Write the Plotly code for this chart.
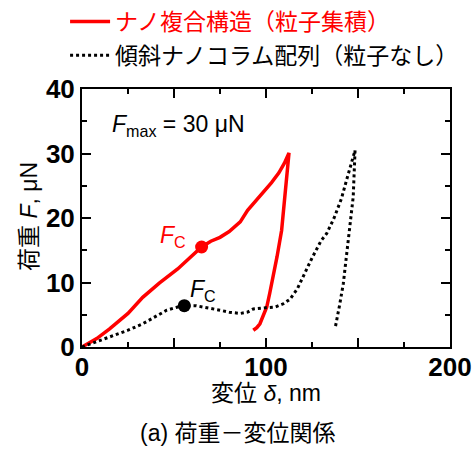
import plotly.graph_objects as go

# Loading / unloading curve, nano composite structure (particle accumulation)
red_x = [0, 8, 15, 25, 33, 42, 52, 60, 65, 70, 75, 80, 86, 90, 95, 100.4, 103, 107, 110, 112.5,
         110.5, 108.5, 106, 104, 102, 100.4, 98.5, 96.7, 95, 93.1]
red_y = [0, 1.3, 2.8, 5.2, 7.7, 9.9, 12.1, 14.2, 15.5, 16.4, 17.0, 17.9, 19.4, 21.2, 22.8, 24.6, 25.5, 27.0, 28.5, 30.1,
         24.0, 18.1, 14.0, 10.8, 8.3, 6.2, 4.7, 3.6, 3.0, 2.6]

# Inclined nano-column array (no particles)
blk_x = [0, 8, 15, 25, 33, 40, 46, 52, 55.6, 62, 70, 75, 80, 86, 90, 93.1, 100, 105, 109.4, 113, 117, 120.3,
         125, 130, 133, 137, 141, 143.8, 146, 148.4, 147.4, 146, 144.7, 143.3, 142, 140, 137.5]
blk_y = [0, 0.8, 1.5, 2.6, 3.6, 4.7, 5.7, 6.2, 6.4, 6.4, 5.9, 5.7, 5.4, 5.2, 5.4, 5.9, 6.1, 6.2, 6.7, 7.4, 9.0, 11.0,
         13.8, 16.5, 17.6, 20.0, 23.0, 25.9, 28.0, 30.5, 23.3, 20.0, 16.5, 13.0, 9.8, 6.5, 2.8]

# Critical load points F_C
fc_red = (65, 15.5)
fc_blk = (55.6, 6.4)

red_name = "ナノ複合構造（粒子集積）"
blk_name = "傾斜ナノコラム配列（粒子なし）"

x_ticks = [0, 50, 100, 150, 200]
x_labels = ["0", "", "100", "", "200"]
y_ticks = [0, 10, 20, 30, 40]
y_labels = ["0", "10", "20", "30", "40"]

FONT = "Liberation Sans, Arial, Noto Sans CJK JP, sans-serif"
RED = "#ff0000"

fig = go.Figure()
fig.add_trace(go.Scatter(x=red_x, y=red_y, mode="lines", name=f'<span style="color:{RED}">{red_name}</span>',
                         line=dict(color=RED, width=3.5), legend="legend"))
fig.add_trace(go.Scatter(x=blk_x, y=blk_y, mode="lines", name=blk_name,
                         line=dict(color="black", width=3, dash="dot"), legend="legend2"))
fig.add_trace(go.Scatter(x=[fc_red[0]], y=[fc_red[1]], mode="markers", showlegend=False,
                         marker=dict(color=RED, size=13)))
fig.add_trace(go.Scatter(x=[fc_blk[0]], y=[fc_blk[1]], mode="markers", showlegend=False,
                         marker=dict(color="black", size=13)))

axis_common = dict(showline=True, linecolor="black", linewidth=2, mirror="ticks", ticks="inside",
                   ticklen=9, tickwidth=1.5, tickcolor="black", showgrid=False, zeroline=False,
                   tickfont=dict(family=FONT, size=26, color="black", weight="bold"))

fig.update_xaxes(range=[0, 200], tickvals=x_ticks, ticktext=x_labels, ticklabelstandoff=-4,
                 minor=dict(dtick=25, ticks="inside", ticklen=5, tickwidth=1.5, tickcolor="black", showgrid=False),
                 **axis_common)
fig.update_yaxes(range=[0, 40], tickvals=y_ticks, ticktext=y_labels,
                 minor=dict(dtick=5, ticks="inside", ticklen=5, tickwidth=1.5, tickcolor="black", showgrid=False),
                 **axis_common)

fig.add_annotation(x=0.5, y=-0.178, xref="paper", yref="paper", xanchor="center", yanchor="middle",
                   showarrow=False, text="変位 <i>δ</i>, nm", font=dict(family=FONT, size=23, color="black"))
fig.add_annotation(x=-0.144, y=0.504, xref="paper", yref="paper", textangle=-90, showarrow=False,
                   xanchor="center", yanchor="middle",
                   text="荷重 <i>F</i>, μN", font=dict(family=FONT, size=23, color="black"))
fig.add_annotation(x=15.2, y=34.4, text="<i>F</i><sub>max</sub> = 30 μN", showarrow=False, xanchor="left",
                   font=dict(family=FONT, size=23, color="black"))
fig.add_annotation(x=57.5, y=17.1, text="<i>F</i><sub>C</sub>", showarrow=False, xanchor="right",
                   font=dict(family=FONT, size=23, color=RED))
fig.add_annotation(x=57.6, y=8.8, text="<i>F</i><sub>C</sub>", showarrow=False, xanchor="left",
                   font=dict(family=FONT, size=23, color="black"))
fig.add_annotation(x=0.424, y=-0.333, xref="paper", yref="paper", yanchor="middle", xanchor="center",
                   text="(a) 荷重－変位関係", showarrow=False,
                   font=dict(family=FONT, size=23, color="black"))

legend_common = dict(xref="container", yref="container", xanchor="left", yanchor="top",
                     font=dict(family=FONT, size=23, color="black"),
                     bgcolor="rgba(0,0,0,0)", itemwidth=40)

fig.update_layout(
    width=475, height=450,
    margin=dict(l=82, r=25, t=89, b=103, autoexpand=False),
    paper_bgcolor="white", plot_bgcolor="white",
    showlegend=True,
    legend=dict(x=0.137, y=1.0, **legend_common),
    legend2=dict(x=0.137, y=0.925, **legend_common),
)

fig.write_html("out.html", config={"displayModeBar": False},
               post_script="document.body.style.margin='0';document.body.style.overflow='hidden';")
